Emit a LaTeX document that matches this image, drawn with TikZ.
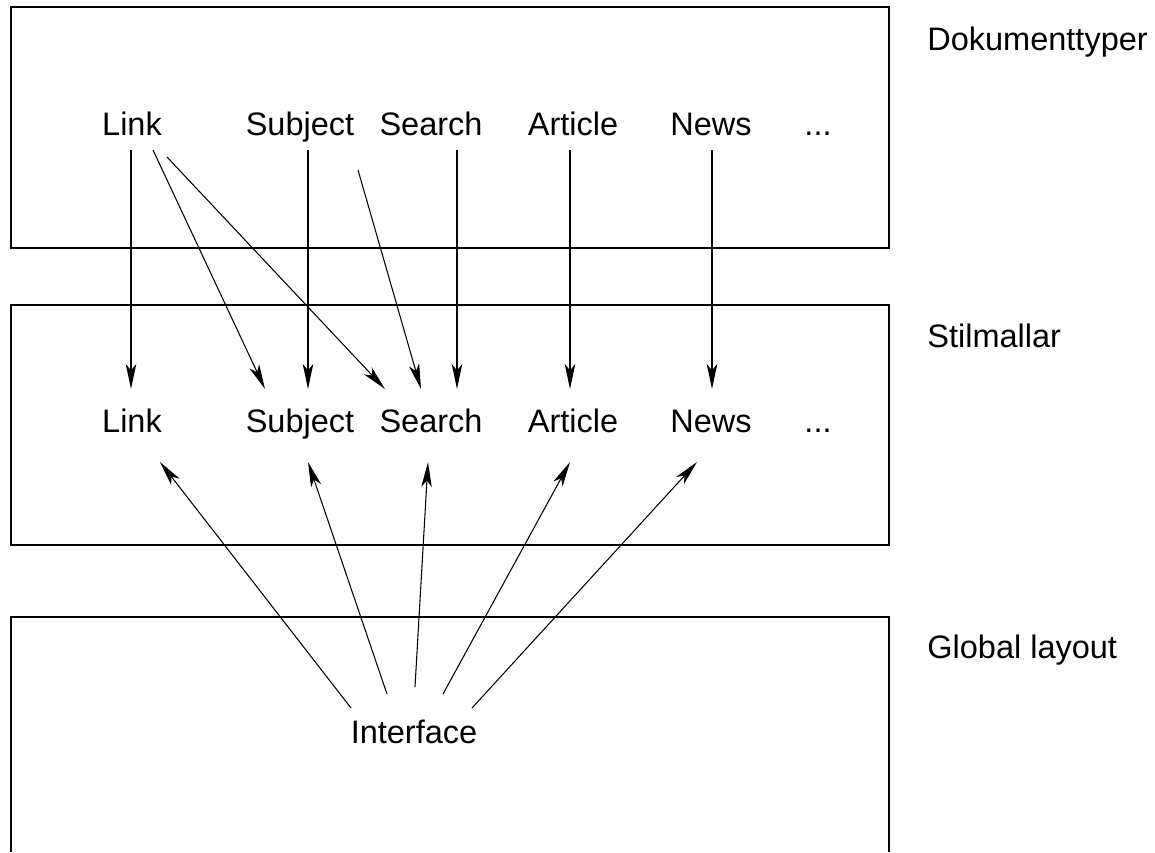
\documentclass[tikz,border=0pt]{standalone}
\usepackage{fontspec}
\setmainfont{Liberation Sans}
\usetikzlibrary{calc,arrows.meta}

\begin{document}
\begin{tikzpicture}[x=0.02cm,y=-0.02cm,
        txt/.style={font=\fontsize{18.5}{22}\selectfont, anchor=base, inner sep=0pt},
        pil/.style={-{Stealth[length=0.5cm,width=0.21cm,inset=0.13cm]}, line width=0.6pt}]
        \useasboundingbox (0,0) rectangle (1155,852);
        % lagren
        \draw[line width=0.8pt] (11,7) rectangle (889,248);
        \draw[line width=0.8pt] (11,305) rectangle (889,545);
        \draw[line width=0.8pt] (11,852) -- (11,617) -- (889,617) -- (889,852);
        \node[txt, anchor=base west] (dok) at (927,50) {Dokumenttyper};
        \node[txt, anchor=base west] (stil) at (927,347) {Stilmallar};
        \node[txt, anchor=base west] (glob) at (927,658) {Global layout};
        % dokumenttyper
        \node[txt] (tlink) at (132,135) {Link};
        \node[txt] (tsubject) at (300,135) {Subject};
        \node[txt] (tsearch) at (431,135) {Search};
        \node[txt] (tarticle) at (573,135) {Article};
        \node[txt] (tnews) at (711,135) {News};
        \node[txt] (tdots) at (818,135) {...};
        % stilmallar
        \node[txt] (mlink) at (132,432) {Link};
        \node[txt] (msubject) at (300,432) {Subject};
        \node[txt] (msearch) at (431,432) {Search};
        \node[txt] (marticle) at (573,432) {Article};
        \node[txt] (mnews) at (711,432) {News};
        \node[txt] (mdots) at (818,432) {...};
        % global layout
        \node[txt] (iface) at (414,743) {Interface};
        % dokumenttyper -> stilmallar
        \draw[pil] ($(tlink.base)+(-1,15)$) -- ($(mlink.base)+(-1,-43)$);
        \draw[pil] ($(tlink.base)+(21,15)$) -- ($(msubject.base)+(-35,-43)$);
        \draw[pil] ($(tlink.base)+(35,22)$) -- ($(msearch.base)+(-46,-43)$);
        \draw[pil] ($(tsubject.base)+(8,15)$) -- ($(msubject.base)+(8,-43)$);
        \draw[pil] ($(tsearch.base)+(-73,35)$) -- ($(msearch.base)+(-10,-43)$);
        \draw[pil] ($(tsearch.base)+(26,15)$) -- ($(msearch.base)+(26,-43)$);
        \draw[pil] ($(tarticle.base)+(-3,15)$) -- ($(marticle.base)+(-3,-43)$);
        \draw[pil] ($(tnews.base)+(1,15)$) -- ($(mnews.base)+(1,-43)$);
        % interface -> stilmallar
        \draw[pil] ($(iface.base)+(-63,-35)$) -- ($(mlink.base)+(28,30)$);
        \draw[pil] ($(iface.base)+(-27,-49)$) -- ($(msubject.base)+(8,30)$);
        \draw[pil] ($(iface.base)+(1,-56)$) -- ($(msearch.base)+(-3,30)$);
        \draw[pil] ($(iface.base)+(29,-49)$) -- ($(marticle.base)+(-3,30)$);
        \draw[pil] ($(iface.base)+(58,-35)$) -- ($(mnews.base)+(-14,30)$);
    \end{tikzpicture}
\end{document}
